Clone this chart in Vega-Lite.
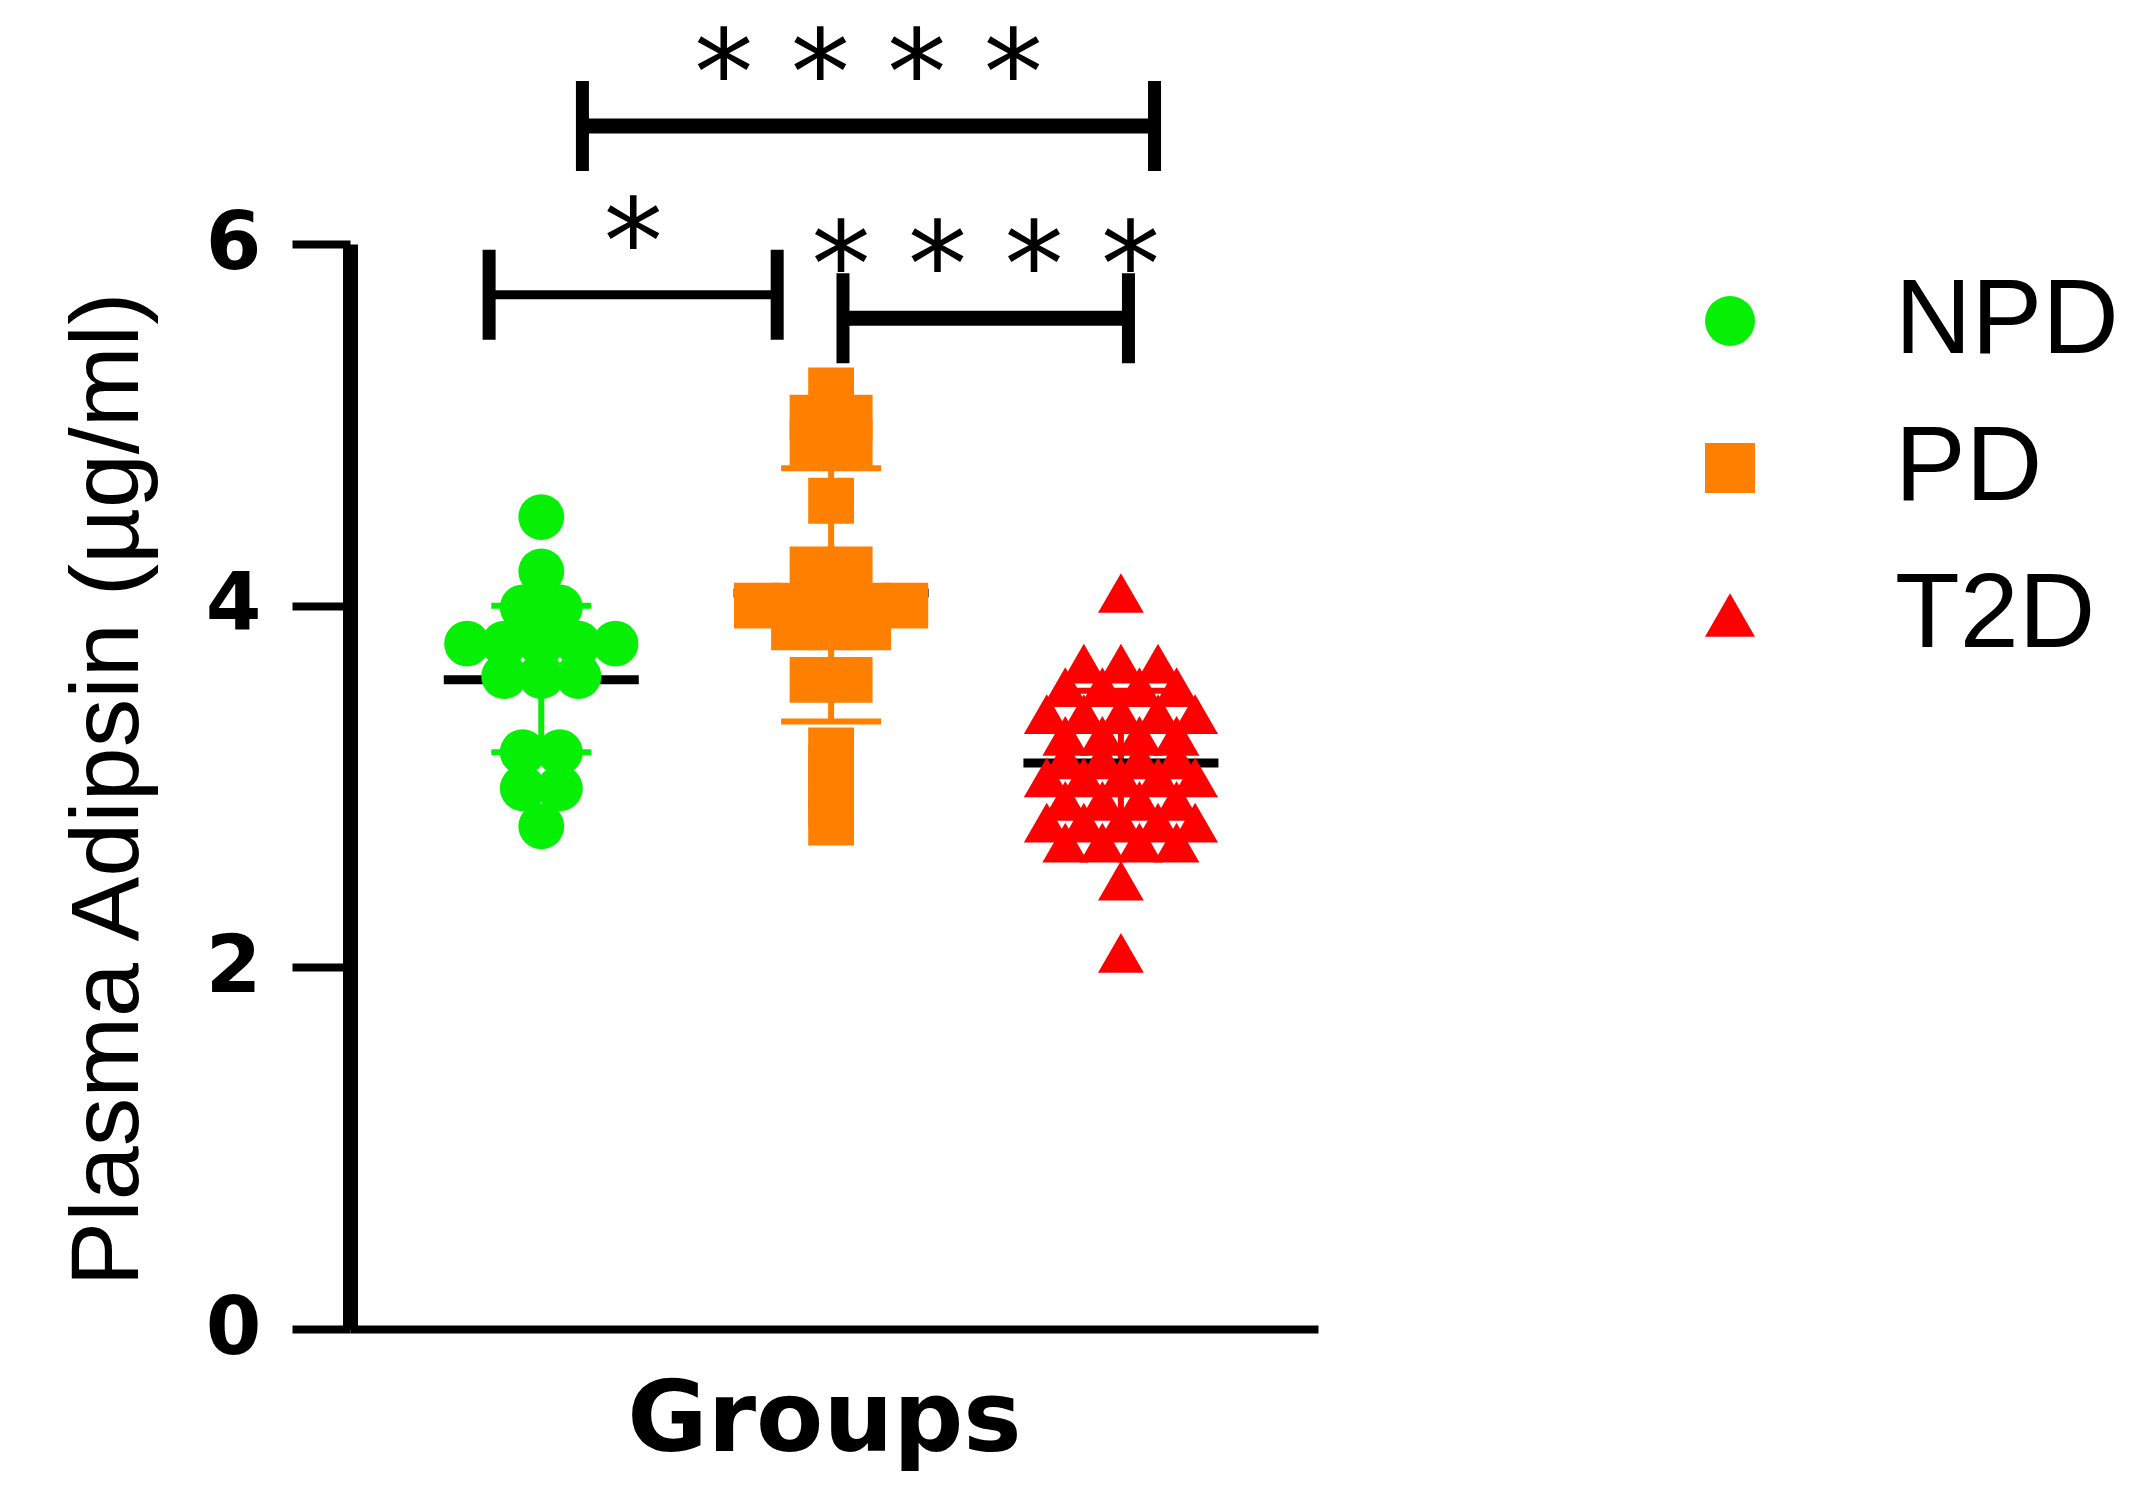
{
  "$schema": "https://vega.github.io/schema/vega-lite/v6.json",
  "autosize": {"type": "none"},
  "padding": {"left": 350, "top": 244, "right": 835, "bottom": 162},
  "width": 968,
  "height": 1085,
  "background": "white",
  "config": {"view": {"stroke": null}, "axis": {"grid": false}},
  "datasets": {
    "points": [
      {"group": "NPD", "value": 4.49},
      {"group": "NPD", "value": 4.19},
      {"group": "NPD", "value": 3.99},
      {"group": "NPD", "value": 3.99},
      {"group": "NPD", "value": 3.79},
      {"group": "NPD", "value": 3.79},
      {"group": "NPD", "value": 3.79},
      {"group": "NPD", "value": 3.79},
      {"group": "NPD", "value": 3.79},
      {"group": "NPD", "value": 3.61},
      {"group": "NPD", "value": 3.61},
      {"group": "NPD", "value": 3.61},
      {"group": "NPD", "value": 3.19},
      {"group": "NPD", "value": 3.19},
      {"group": "NPD", "value": 2.99},
      {"group": "NPD", "value": 2.99},
      {"group": "NPD", "value": 2.78},
      {"group": "PD", "value": 5.19},
      {"group": "PD", "value": 5.04},
      {"group": "PD", "value": 5.04},
      {"group": "PD", "value": 4.9},
      {"group": "PD", "value": 4.9},
      {"group": "PD", "value": 4.58},
      {"group": "PD", "value": 4.2},
      {"group": "PD", "value": 4.2},
      {"group": "PD", "value": 4.0},
      {"group": "PD", "value": 4.0},
      {"group": "PD", "value": 4.0},
      {"group": "PD", "value": 4.0},
      {"group": "PD", "value": 4.0},
      {"group": "PD", "value": 3.88},
      {"group": "PD", "value": 3.88},
      {"group": "PD", "value": 3.88},
      {"group": "PD", "value": 3.59},
      {"group": "PD", "value": 3.59},
      {"group": "PD", "value": 3.2},
      {"group": "PD", "value": 3.1},
      {"group": "PD", "value": 3.0},
      {"group": "PD", "value": 2.9},
      {"group": "PD", "value": 2.8},
      {"group": "T2D", "value": 4.07},
      {"group": "T2D", "value": 3.68},
      {"group": "T2D", "value": 3.68},
      {"group": "T2D", "value": 3.68},
      {"group": "T2D", "value": 3.55},
      {"group": "T2D", "value": 3.55},
      {"group": "T2D", "value": 3.55},
      {"group": "T2D", "value": 3.55},
      {"group": "T2D", "value": 3.4},
      {"group": "T2D", "value": 3.4},
      {"group": "T2D", "value": 3.4},
      {"group": "T2D", "value": 3.4},
      {"group": "T2D", "value": 3.4},
      {"group": "T2D", "value": 3.28},
      {"group": "T2D", "value": 3.28},
      {"group": "T2D", "value": 3.28},
      {"group": "T2D", "value": 3.28},
      {"group": "T2D", "value": 3.15},
      {"group": "T2D", "value": 3.15},
      {"group": "T2D", "value": 3.15},
      {"group": "T2D", "value": 3.15},
      {"group": "T2D", "value": 3.05},
      {"group": "T2D", "value": 3.05},
      {"group": "T2D", "value": 3.05},
      {"group": "T2D", "value": 3.05},
      {"group": "T2D", "value": 3.05},
      {"group": "T2D", "value": 2.92},
      {"group": "T2D", "value": 2.92},
      {"group": "T2D", "value": 2.92},
      {"group": "T2D", "value": 2.92},
      {"group": "T2D", "value": 2.8},
      {"group": "T2D", "value": 2.8},
      {"group": "T2D", "value": 2.8},
      {"group": "T2D", "value": 2.8},
      {"group": "T2D", "value": 2.8},
      {"group": "T2D", "value": 2.69},
      {"group": "T2D", "value": 2.69},
      {"group": "T2D", "value": 2.69},
      {"group": "T2D", "value": 2.69},
      {"group": "T2D", "value": 2.48},
      {"group": "T2D", "value": 2.08}
    ],
    "summary": [
      {"group": "NPD", "mean": 3.59, "lo": 3.19, "hi": 4.0},
      {"group": "PD", "mean": 4.07, "lo": 3.36, "hi": 4.76},
      {"group": "T2D", "mean": 3.13, "lo": 2.73, "hi": 3.53}
    ],
    "sig": [
      {"label": "****", "x1": 1.142, "x2": 3.116, "y": 6.653},
      {"label": "*", "x1": 0.82, "x2": 1.814, "y": 5.719},
      {"label": "****", "x1": 2.041, "x2": 3.026, "y": 5.59}
    ]
  },
  "layer": [
    {
      "data": {"name": "summary"},
      "transform": [{"calculate": "indexof(['NPD','PD','T2D'], datum.group) + 1", "as": "gi"}],
      "mark": {"type": "rule", "strokeWidth": 6},
      "encoding": {
        "x": {"field": "gi", "type": "quantitative", "title": "Groups", "scale": {"domain": [0.34, 3.68], "nice": false, "zero": false}},
        "y": {"field": "lo", "type": "quantitative", "title": "Plasma Adipsin (µg/ml)", "scale": {"domain": [0, 6], "nice": false}},
        "y2": {"field": "hi"},
        "color": {"condition": [{"test": "datum.group === 'NPD'", "value": "#05f005"}, {"test": "datum.group === 'PD'", "value": "#ff8000"}], "value": "#ff0000"}
      }
    },
    {
      "data": {"name": "summary"},
      "transform": [
        {"calculate": "indexof(['NPD','PD','T2D'], datum.group) + 1", "as": "gi"},
        {"fold": ["lo", "hi"], "as": ["k", "v"]}
      ],
      "mark": {"type": "tick", "orient": "horizontal", "size": 100, "thickness": 6, "opacity": 1},
      "encoding": {
        "x": {"field": "gi", "type": "quantitative", "title": "Groups", "scale": {"domain": [0.34, 3.68], "nice": false, "zero": false}},
        "y": {"field": "v", "type": "quantitative", "title": "Plasma Adipsin (µg/ml)", "scale": {"domain": [0, 6], "nice": false}},
        "color": {"condition": [{"test": "datum.group === 'NPD'", "value": "#05f005"}, {"test": "datum.group === 'PD'", "value": "#ff8000"}], "value": "#ff0000"}
      }
    },
    {
      "data": {"name": "summary"},
      "transform": [{"calculate": "indexof(['NPD','PD','T2D'], datum.group) + 1", "as": "gi"}],
      "mark": {"type": "tick", "orient": "horizontal", "size": 195, "thickness": 9, "color": "black", "opacity": 1},
      "encoding": {
        "x": {"field": "gi", "type": "quantitative", "title": "Groups", "scale": {"domain": [0.34, 3.68], "nice": false, "zero": false}},
        "y": {"field": "mean", "type": "quantitative", "title": "Plasma Adipsin (µg/ml)", "scale": {"domain": [0, 6], "nice": false}}
      }
    },
    {
      "data": {"name": "points"},
      "transform": [
        {"calculate": "indexof(['NPD','PD','T2D'], datum.group) + 1", "as": "gi"},
        {"joinaggregate": [{"op": "count", "as": "n"}], "groupby": ["group", "value"]},
        {"window": [{"op": "row_number", "as": "r"}], "groupby": ["group", "value"]},
        {"calculate": "datum.gi + (datum.r - (datum.n + 1) / 2) * 0.128", "as": "xpos"}
      ],
      "mark": {"type": "point", "filled": true, "opacity": 1, "size": 2100, "strokeWidth": 0},
      "encoding": {
        "x": {
          "field": "xpos", "type": "quantitative", "title": "Groups",
          "scale": {"domain": [0.34, 3.68], "nice": false, "zero": false},
          "axis": {
            "orient": "bottom", "titleFont": "DejaVu Sans", "titleFontSize": 98, "titleFontWeight": "bold", "titleColor": "black",
            "titlePadding": 44, "titleX": 474, "labels": false, "ticks": false, "domainColor": "black", "domainWidth": 8, "grid": false
          }
        },
        "y": {
          "field": "value", "type": "quantitative", "title": "Plasma Adipsin (µg/ml)",
          "scale": {"domain": [0, 6], "nice": false},
          "axis": {
            "orient": "left", "values": [0, 2, 4, 6], "format": "d",
            "titleFont": "Liberation Sans", "titleFontSize": 97, "titleFontWeight": "normal", "titleColor": "black",
            "titleX": -213, "titleY": 545, "titleAngle": 270, "titleBaseline": "alphabetic", "titleAlign": "center",
            "labelFont": "DejaVu Sans", "labelFontSize": 80, "labelFontWeight": "bold", "labelColor": "black", "labelPadding": 31,
            "tickSize": 58, "tickWidth": 8, "tickColor": "black", "domainColor": "black", "domainWidth": 15, "grid": false
          }
        },
        "color": {
          "field": "group", "type": "nominal",
          "scale": {"domain": ["NPD", "PD", "T2D"], "range": ["#05f005", "#ff8000", "#ff0000"]},
          "legend": {
            "orient": "none", "legendX": 1327, "legendY": 24, "title": null, "padding": 0,
            "labelFont": "Liberation Sans", "labelFontSize": 106, "labelColor": "black", "labelOffset": 112, "labelLimit": 0,
            "rowPadding": 41, "symbolStrokeWidth": 0, "symbolSize": 2500
          }
        },
        "shape": {
          "field": "group", "type": "nominal",
          "scale": {"domain": ["NPD", "PD", "T2D"], "range": ["circle", "square", "triangle-up"]}
        }
      }
    },
    {
      "data": {"name": "sig"},
      "mark": {"type": "rule", "color": "black"},
      "encoding": {
        "x": {"field": "x1", "type": "quantitative", "title": "Groups", "scale": {"domain": [0.34, 3.68], "nice": false, "zero": false}},
        "x2": {"field": "x2"},
        "y": {"field": "y", "type": "quantitative", "title": "Plasma Adipsin (µg/ml)", "scale": {"domain": [0, 6], "nice": false}},
        "strokeWidth": {"condition": {"test": "datum.label === '*'", "value": 9}, "value": 15}
      }
    },
    {
      "data": {"name": "sig"},
      "transform": [{"fold": ["x1", "x2"], "as": ["k", "xe"]}],
      "mark": {"type": "tick", "orient": "vertical", "size": 90, "thickness": 13, "color": "black", "opacity": 1},
      "encoding": {
        "x": {"field": "xe", "type": "quantitative", "title": "Groups", "scale": {"domain": [0.34, 3.68], "nice": false, "zero": false}},
        "y": {"field": "y", "type": "quantitative", "title": "Plasma Adipsin (µg/ml)", "scale": {"domain": [0, 6], "nice": false}}
      }
    },
    {
      "data": {"name": "sig"},
      "transform": [
        {"calculate": "(datum.x1 + datum.x2) / 2", "as": "xm"},
        {"calculate": "join(split(datum.label, ''), ' ')", "as": "shown"}
      ],
      "mark": {"type": "text", "font": "DejaVu Sans", "fontSize": 118, "baseline": "alphabetic", "align": "center", "color": "black", "dy": -12},
      "encoding": {
        "x": {"field": "xm", "type": "quantitative", "title": "Groups", "scale": {"domain": [0.34, 3.68], "nice": false, "zero": false}},
        "y": {"field": "y", "type": "quantitative", "title": "Plasma Adipsin (µg/ml)", "scale": {"domain": [0, 6], "nice": false}},
        "text": {"field": "shown"}
      }
    }
  ]
}
